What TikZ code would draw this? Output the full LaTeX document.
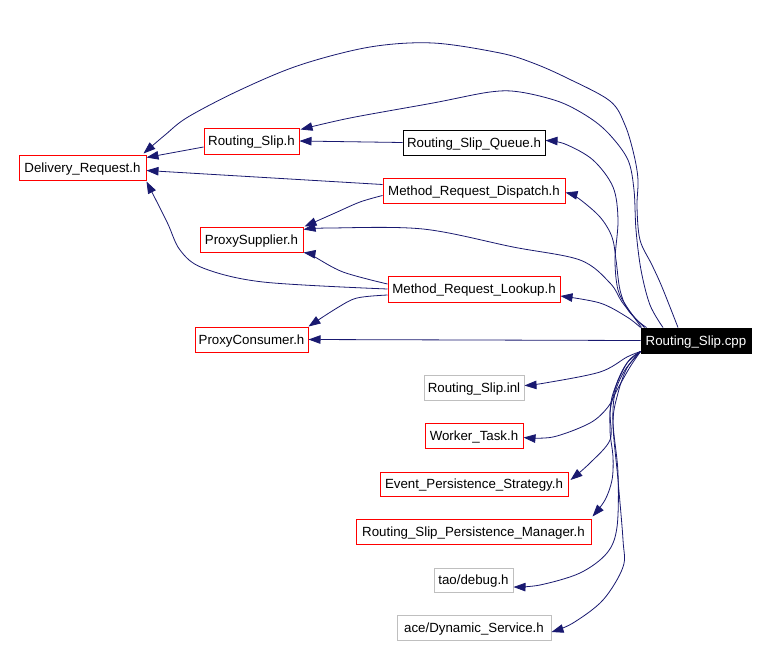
\documentclass[tikz,border=0pt]{standalone}
\usepackage{fontspec}
\setmainfont{Liberation Sans}
\usetikzlibrary{arrows.meta}
\definecolor{edgeblue}{HTML}{191970}
\definecolor{boxred}{HTML}{FF0000}
\definecolor{boxgray}{HTML}{BFBFBF}
\begin{document}
\begin{tikzpicture}[x=1pt,y=-1pt,
  box/.style={draw, line width=1pt, inner sep=0pt, minimum height=25pt, text height=9.6pt, text depth=0pt, font=\fontsize{13.3}{16}\selectfont},
  redbox/.style={box, draw=boxred},
  blackbox/.style={box, draw=black},
  graybox/.style={box, draw=boxgray},
  rootbox/.style={box, draw=black, fill=black, text=white},
  edge/.style={draw=edgeblue, line width=0.8pt, -{Triangle[length=12pt,width=8.5pt]}, fill=none},
  sm/.style={smooth, tension=0.55}]
\useasboundingbox (0,0) rectangle (768,646);
\fill[white] (0,0) rectangle (768,646);
% nodes
\node[redbox, minimum width=127pt] (dr) at (82.5,167.5) {Delivery\_Request.h};
\node[redbox, minimum width=95pt, minimum height=26pt] (rs) at (251.5,141) {Routing\_Slip.h};
\node[blackbox, minimum width=142pt] (rsq) at (474,142.5) {Routing\_Slip\_Queue.h};
\node[redbox, minimum width=182pt] (mrd) at (474,190.5) {Method\_Request\_Dispatch.h};
\node[redbox, minimum width=103pt] (ps) at (251.5,239.5) {ProxySupplier.h};
\node[redbox, minimum width=172pt, minimum height=26pt] (mrl) at (474,289) {Method\_Request\_Lookup.h};
\node[redbox, minimum width=113pt] (pc) at (251.5,339.5) {ProxyConsumer.h};
\node[rootbox, minimum width=110pt] (cpp) at (696,340.5) {Routing\_Slip.cpp};
\node[graybox, minimum width=100pt] (inl) at (474,387.5) {Routing\_Slip.inl};
\node[redbox, minimum width=98pt] (wt) at (474,435.5) {Worker\_Task.h};
\node[redbox, minimum width=188pt, minimum height=24pt] (eps) at (474,484) {Event\_Persistence\_Strategy.h};
\node[redbox, minimum width=235pt] (rspm) at (473.5,531.5) {Routing\_Slip\_Persistence\_Manager.h};
\node[graybox, minimum width=79pt, minimum height=24pt] (dbg) at (473.5,580) {tao/debug.h};
\node[graybox, minimum width=154pt] (ads) at (474,628) {ace/Dynamic\_Service.h};
% edges
\draw[edge] plot[sm] coordinates {([xshift=-18pt]cpp.north) (662,287) (652,265) (640,240) (637,207) (638,180) (634,155) (625,125) (610,101) (567,78) (533,63) (500,53) (433,43) (370,47) (300,65) (240,90) (188,117) (165,135) ([xshift=-3pt,yshift=1pt]dr.north east)};
\draw[edge] plot[sm] coordinates {([xshift=-33pt]cpp.north) (650,305) (641,270) (636,230) (634,190) (628,160) (610,135) (590,118) (560,102) (520,92) (490,92) (433,103) (350,118) ([xshift=1pt,yshift=-2pt]rs.north east)};
\draw[edge] (rsq.west) -- (rs.east);
\draw[edge] plot[sm] coordinates {([xshift=1pt]cpp.north west) (627,307) (618,290) (615,260) (618,220) (613,187) (593,160) (565,144) ([yshift=2pt]rsq.east)};
\draw[edge] ([yshift=-6pt]rs.west) -- ([yshift=10pt]dr.east);
\draw[edge] ([yshift=6pt]mrd.west) -- ([yshift=-3pt]dr.east);
\draw[edge] plot[sm] coordinates {([xshift=4pt]cpp.north west) (628,310) (620,290) (616,260) (612,237) (600,217) (578,198) ([yshift=-2pt]mrd.east)};
\draw[edge] plot[sm] coordinates {([yshift=-5pt]mrd.west) (360,202) (335,213) ([xshift=1pt]ps.north east)};
\draw[edge] plot[sm] coordinates {([xshift=6pt]cpp.north west) (637,320) (622,302) (610,283) (580,260) (513,247) (423,229) (330,228) ([yshift=-3pt]ps.north east)};
\draw[edge] plot[sm] coordinates {([yshift=5pt]mrl.west) (343,272) (313,256) (ps.south east)};
\draw[edge] plot[sm] coordinates {(mrl.west) (263,282) (203,268) (180,250) (167,222) ([yshift=-1pt]dr.south east)};
\draw[edge] plot[sm] coordinates {([yshift=-6pt]mrl.west) (357,298) (337,308) (pc.north east)};
\draw[edge] plot[sm] coordinates {(cpp.north west) (627,317) (600,303) ([yshift=-7pt]mrl.east)};
\draw[edge] (cpp.west) -- (pc.east);
\draw[edge] plot[sm] coordinates {([yshift=2pt]cpp.south west) (627,357) (600,372) (545,383) ([yshift=2pt]inl.east)};
\draw[edge] plot[sm] coordinates {([yshift=2pt]cpp.south west) (630,367) (617,390) (608,407) (590,423) (553,437) ([yshift=-2pt]wt.east)};
\draw[edge] plot[sm] coordinates {([yshift=2pt]cpp.south west) (627,363) (618,380) (613,397) (610,413) (610,440) (590,463) ([xshift=2pt,yshift=4pt]eps.east)};
\draw[edge] plot[sm] coordinates {([yshift=2pt]cpp.south west) (627,363) (612,397) (610,430) (613,457) (612,480) (605,500) ([xshift=1pt,yshift=2pt]rspm.north east)};
\draw[edge] plot[sm] coordinates {([yshift=2pt]cpp.south west) (625,370) (615,393) (613,423) (618,473) (617,527) (607,553) (580,573) (540,585) ([yshift=-7pt]dbg.east)};
\draw[edge] plot[sm] coordinates {([yshift=2pt]cpp.south west) (627,368) (618,393) (613,423) (618,480) (623,540) (623,567) (603,600) (573,623) ([yshift=-4pt]ads.east)};
\end{tikzpicture}
\end{document}
